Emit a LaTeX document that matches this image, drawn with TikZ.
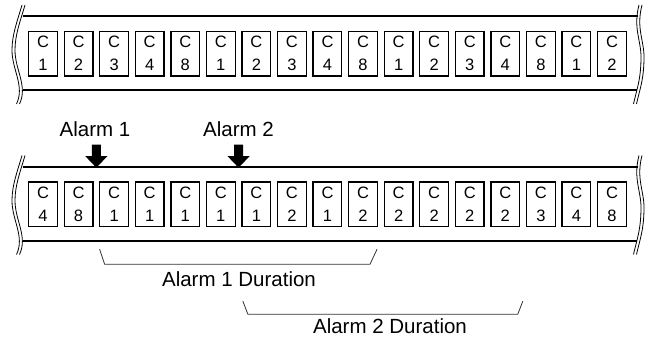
\documentclass[tikz,border=0pt]{standalone}
\usepackage{fontspec}
\setmainfont{Liberation Sans}
\usetikzlibrary{calc}
\begin{document}
\begin{tikzpicture}[x=1pt,y=-1pt,
  cell/.style={draw, line width=1.3pt, minimum width=28.7pt, minimum height=44.7pt, inner sep=0pt, align=center, font=\fontsize{16.5}{23}\selectfont},
  rail/.style={line width=2pt},
  wave/.style={line width=0.8pt},
  lbl/.style={font=\fontsize{20.5}{24}\selectfont, inner sep=0pt},
  brk/.style={line width=0.8pt, draw=black!80},
  alarrow/.style={fill=black}]
\useasboundingbox (0,0) rectangle (649,337);

% strips
\foreach \yo/\nm in {0/t,150.5/b}{
  \begin{scope}[yshift=-\yo pt]
    % left wavy pair
    \foreach \dx in {0,3}{
      \draw[wave] (22+\dx,5) .. controls (17+\dx,22) and (12+\dx,35) .. (12+\dx,50)
                  .. controls (12+\dx,70) and (25+\dx,86) .. (16.5+\dx,104);
    }
    % right wavy pair
    \foreach \dx in {0,-3}{
      \draw[wave] (642+\dx,5) .. controls (636+\dx,28) and (644+\dx,40) .. (644+\dx,57)
                  .. controls (644+\dx,80) and (639.5+\dx,90) .. (636.5+\dx,104);
    }
    \draw[rail] (22.5,16.5) -- (637.5,16.5);
    \draw[rail] (23,90.5) -- (637,90.5);
  \end{scope}
}

% top strip cells
\foreach \v [count=\i] in {1,2,3,4,8,1,2,3,4,8,1,2,3,4,8,1,2}
  \node[cell] (t\i) at ({43+(\i-1)*35.56},53.7) {C\\\v};

% bottom strip cells
\foreach \v [count=\i] in {4,8,1,1,1,1,1,2,1,2,2,2,2,2,3,4,8}
  \node[cell] (b\i) at ({43+(\i-1)*35.56},204.2) {C\\\v};

% alarm labels and arrows
\node[lbl] (al1) at (95,129.5) {Alarm 1};
\node[lbl] (al2) at (238.5,129.5) {Alarm 2};
\coordinate (a1) at ($(b2.north east)!0.5!(b3.north west)+(0,-13.5)$);
\coordinate (a2) at ($(b6.north east)!0.5!(b7.north west)+(0,-13.5)$);
\foreach \a in {a1,a2}
  \fill[alarrow] ($(\a)+(-4.5,-23)$) -- ($(\a)+(4.5,-23)$) -- ($(\a)+(4.5,-11.5)$) -- ($(\a)+(11,-11.5)$)
     -- (\a) -- ($(\a)+(-11,-11.5)$) -- ($(\a)+(-4.5,-11.5)$) -- cycle;

% duration brackets
\coordinate (d1a) at ($(b3.south west)+(0.5,22)$);
\coordinate (d1b) at ($(b10.south east)+(-1,22)$);
\draw[brk] (d1a) -- ++(5,15) -- ($(d1b)+(-7,15)$) -- (d1b);
\node[lbl] (dur1) at (239,279.5) {Alarm 1 Duration};

\coordinate (d2a) at ($(b7.south west)+(1.5,74)$);
\coordinate (d2b) at ($(b14.south east)+(2.5,74)$);
\draw[brk] (d2a) -- ++(5,13) -- ($(d2b)+(-5,13)$) -- (d2b);
\node[lbl] (dur2) at (390,326) {Alarm 2 Duration};
\end{tikzpicture}
\end{document}
